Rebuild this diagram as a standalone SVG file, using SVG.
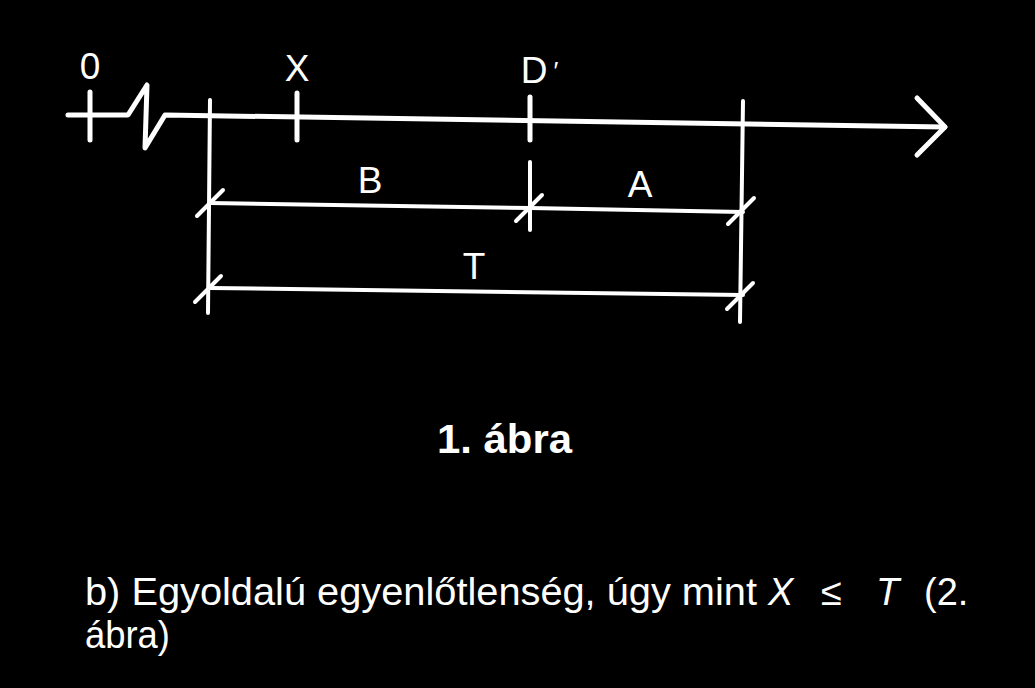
<svg xmlns="http://www.w3.org/2000/svg" width="1035" height="688" viewBox="0 0 1035 688">
<defs>
<style>
.ln{fill:none;stroke:#fff;stroke-width:5;stroke-linecap:round;stroke-linejoin:round}
.thin{fill:none;stroke:#fff;stroke-width:4;stroke-linecap:round}
.lbl{font-family:"Liberation Sans",Arial,sans-serif;font-size:37px;fill:#fff;text-anchor:middle}
.cap{font-family:"Liberation Sans",Arial,sans-serif;font-size:38px;fill:#fff}
.capb{font-family:"Liberation Sans",Arial,sans-serif;font-size:40px;font-weight:bold;fill:#fff}
</style>
<path id="slash" d="M-13,13 L13,-13" class="thin"/>
</defs>
<rect x="0" y="0" width="1035" height="688" fill="#000"/>

<g id="axis">
<polyline class="ln" points="68,115 128,115 147,85 145,148 165,115 945,127"/>
<polyline class="ln" points="917,98 945,127 917,155"/>
</g>

<g id="node-0">
<line class="ln" x1="90" y1="92" x2="90" y2="140"/>
<text class="lbl" x="90" y="79">0</text>
</g>
<g id="node-X">
<line class="ln" x1="297" y1="93" x2="297" y2="140"/>
<text class="lbl" x="297" y="81">X</text>
</g>
<g id="node-D">
<line class="ln" x1="530" y1="97" x2="530" y2="140"/>
<text class="lbl" x="534" y="83">D</text>
<text class="lbl" x="556" y="80" style="font-size:26px">′</text>
</g>

<g id="connectors">
<line class="thin" x1="210" y1="100" x2="208" y2="313"/>
<line class="thin" x1="743" y1="101" x2="740" y2="322"/>
<line class="thin" x1="530" y1="162" x2="530" y2="230"/>
<polyline class="thin" points="210,203 530,208 743,212"/>
<line class="thin" x1="210" y1="288" x2="743" y2="295"/>
<use href="#slash" x="210" y="203"/>
<use href="#slash" x="529" y="208"/>
<use href="#slash" x="741" y="211"/>
<use href="#slash" x="208" y="289"/>
<use href="#slash" x="740" y="296"/>
</g>

<g id="label-B"><text class="lbl" x="370" y="193">B</text></g>
<g id="label-A"><text class="lbl" x="640" y="197">A</text></g>
<g id="label-T"><text class="lbl" x="474" y="279">T</text></g>

<g id="caption">
<text class="capb" x="437" y="453" textLength="135" lengthAdjust="spacingAndGlyphs">1. ábra</text>
</g>

<g id="text">
<text class="cap" y="605"><tspan x="85" textLength="672" lengthAdjust="spacingAndGlyphs">b) Egyoldalú egyenlőtlenség, úgy mint</tspan><tspan x="768" font-style="italic">X</tspan><tspan x="821">≤</tspan><tspan x="876" font-style="italic">T</tspan><tspan x="924">(2.</tspan></text>
<text class="cap" x="85" y="648" textLength="85" lengthAdjust="spacingAndGlyphs">ábra)</text>
</g>
</svg>
